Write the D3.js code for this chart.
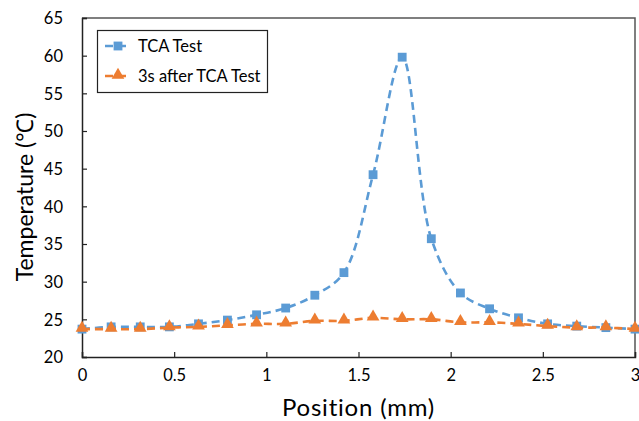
<!DOCTYPE html>
<html>
<head>
<meta charset="utf-8">
<script src="https://cdn.jsdelivr.net/npm/d3@7"></script>
<style>
  html, body { margin: 0; padding: 0; background: #fff; }
  svg { display: block; font-family: Lato, "Open Sans", sans-serif; }
</style>
</head>
<body>
<svg id="chart" width="639" height="421"></svg>
<script>
// Positions along the sample (mm), 20 evenly spaced readings
const positions = [0, 0.158, 0.316, 0.474, 0.632, 0.789, 0.947, 1.105, 1.263, 1.421,
                   1.579, 1.737, 1.895, 2.053, 2.211, 2.368, 2.526, 2.684, 2.842, 3.0];
const tcaTest = [23.7, 24.0, 24.0, 24.0, 24.4, 24.9, 25.6, 26.5, 28.2, 31.2,
                 44.2, 59.8, 35.7, 28.5, 26.4, 25.2, 24.4, 24.1, 23.9, 23.7];
const after3s = [23.7, 23.7, 23.7, 23.9, 24.0, 24.2, 24.4, 24.4, 24.8, 24.8,
                 25.2, 25.0, 25.0, 24.6, 24.6, 24.4, 24.1, 23.9, 23.9, 23.7];
const seriesNames = ["TCA Test", "3s after TCA Test"];
const xTicks = [0, 0.5, 1, 1.5, 2, 2.5, 3];
const xTickLabels = ["0", "0.5", "1", "1.5", "2", "2.5", "3"];
const yTicks = [20, 25, 30, 35, 40, 45, 50, 55, 60, 65];

const colors = ["#5B9BD5", "#ED7D31"];
const svg = d3.select("#chart");
const plotL = 82, plotR = 635, plotT = 18, plotB = 357;

const x = d3.scaleLinear().domain([0, 3]).range([plotL, plotR]);
const y = d3.scaleLinear().domain([20, 65]).range([plotB, plotT]);

// Plot frame (top and right edges)
svg.append("path")
  .attr("d", `M${plotL},${plotT}H${plotR}V${plotB}`)
  .attr("fill", "none").attr("stroke", "#555").attr("stroke-width", 1.5);

// Axes with inward ticks
const xAxis = svg.append("g").attr("transform", `translate(0,${plotB})`)
  .call(d3.axisBottom(x).tickValues(xTicks).tickSize(-5).tickPadding(13)
    .tickFormat((d, i) => xTickLabels[i]));
const yAxis = svg.append("g").attr("transform", `translate(${plotL},0)`)
  .call(d3.axisLeft(y).tickValues(yTicks).tickSize(-5).tickPadding(19)
    .tickFormat(d3.format("d")));
[xAxis, yAxis].forEach(a => {
  a.select(".domain").attr("stroke", "#222").attr("stroke-width", 1.5);
  a.selectAll(".tick line").attr("stroke", "#222").attr("stroke-width", 1.2);
  a.selectAll(".tick text").attr("fill", "#000").attr("font-size", 16.5)
    .attr("font-family", "Lato, sans-serif");
});
yAxis.selectAll(".tick text").attr("dy", "0.35em");
xAxis.selectAll(".tick text").attr("dy", "0.68em");

// Axis titles
svg.append("text").attr("x", (plotL + plotR) / 2).attr("y", 416)
  .attr("text-anchor", "middle").attr("font-size", 24).attr("letter-spacing", 0.8)
  .text("Position (mm)");
svg.append("text")
  .attr("transform", `translate(33,197) rotate(-90)`)
  .attr("text-anchor", "middle").attr("font-size", 23).text("Temperature (℃)");

// Series lines (smoothed, dashed) and markers
const data = [tcaTest, after3s];
const line = d3.line().x(d => x(d[0])).y(d => y(d[1])).curve(d3.curveCatmullRom.alpha(0.5));
const square = d3.symbol().type(d3.symbolSquare).size(78);
const triangle = d3.symbol().type(d3.symbolTriangle).size(70);

data.forEach((vals, si) => {
  const pts = positions.map((p, i) => [p, vals[i]]);
  svg.append("path").datum(pts).attr("d", line)
    .attr("fill", "none").attr("stroke", colors[si]).attr("stroke-width", 2.6)
    .attr("stroke-dasharray", "8,5");
  svg.append("g").selectAll("path").data(pts).join("path")
    .attr("transform", d => `translate(${x(d[0])},${y(d[1]) + (si === 1 ? -1 : 0)})`)
    .attr("d", si === 0 ? square : triangle)
    .attr("fill", colors[si]);
});

// Legend
const lg = svg.append("g");
lg.append("rect").attr("x", 97.5).attr("y", 30.5).attr("width", 170).attr("height", 62)
  .attr("fill", "#fff").attr("stroke", "#222").attr("stroke-width", 1.2);
seriesNames.forEach((name, i) => {
  const cy = 46 + i * 30;
  lg.append("line").attr("x1", 105).attr("x2", 129).attr("y1", cy).attr("y2", cy)
    .attr("stroke", colors[i]).attr("stroke-width", 2.6).attr("stroke-dasharray", "8,5");
  lg.append("path").attr("transform", `translate(118,${cy + (i === 1 ? -1 : 0)})`)
    .attr("d", i === 0 ? square : triangle).attr("fill", colors[i]);
  lg.append("text").attr("x", 138).attr("y", cy).attr("dy", "0.35em")
    .attr("font-size", 16.5).text(name);
});
</script>
</body>
</html>
